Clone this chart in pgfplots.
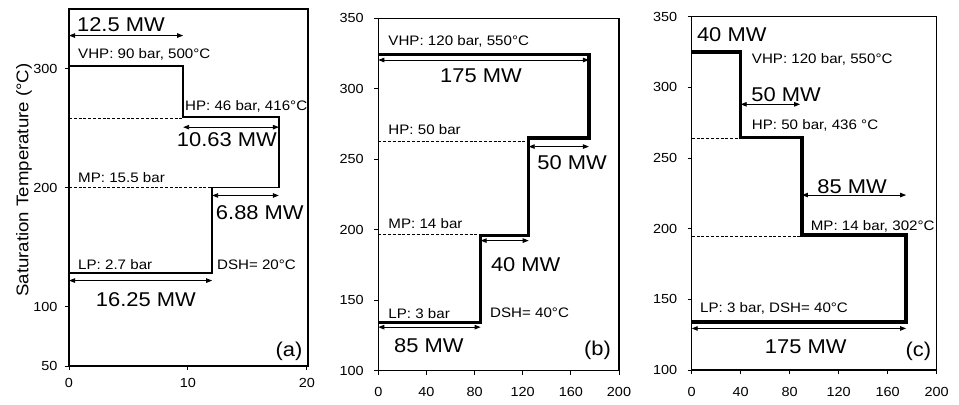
\documentclass[border=0pt]{standalone}
\usepackage{fontspec}
\setmainfont{Liberation Sans}[FakeStretch=1.1]
\usepackage{pgfplots}
\pgfplotsset{compat=1.18}
\usetikzlibrary{arrows.meta}
\pgfplotsset{
  panel/.style={scale only axis, clip=false, no marks, anchor=south west,
    axis line style={line width=1.4bp},
    tick style={line width=1bp, black}, tick align=outside, major tick length=4bp,
    tick pos=left,
    ticklabel style={font=\fontsize{13.2}{15}\selectfont},
    /pgf/number format/assume math mode=true,
    xticklabel style={yshift=-5bp}, yticklabel style={xshift=-4bp}},
  panelbc/.style={panel, xticklabel style={yshift=-4.5bp}, yticklabel style={xshift=-3bp}},
  stepline/.style={black, line width=#1, line join=miter},
  dim/.style={black, line width=0.9bp, >={Triangle[length=6bp,width=4.5bp]}, <->},
  dsh/.style={black, line width=0.9bp, dash pattern=on 3bp off 1.8bp},
}
\tikzset{
  ann/.style={font=\fontsize{13.8}{15}\selectfont, anchor=west, inner sep=0pt},
  big/.style={font=\fontsize{20}{22}\selectfont, inner sep=0pt},
}
\begin{document}
\begin{tikzpicture}
\path[use as bounding box] (0,0) rectangle (959bp,-405bp);
\node[rotate=90, font=\fontsize{17}{19}\selectfont] at (24bp,-180bp) {Saturation Temperature (°C)};
% ---------------- (a)
\begin{axis}[panel, at={(69bp,-366bp)}, width=239bp, height=357bp,
  xmin=0, xmax=20.1, ymin=50, ymax=350, xtick={0,10,20}, ytick={50,100,200,300}]
\addplot[stepline=1.8bp] coordinates {(0,302) (9.6,302) (9.6,259) (17.65,259) (17.65,200) (12.04,200) (12.04,128) (0,128)};
\addplot[dsh] coordinates {(0,258) (9.6,258)};
\addplot[dsh] coordinates {(0,199.7) (12.04,199.7)};
\addplot[dim] coordinates {(0,327.7) (9.6,327.7)};
\addplot[dim] coordinates {(9.6,250.7) (17.65,250.7)};
\addplot[dim] coordinates {(12.04,193.3) (17.65,193.3)};
\addplot[dim] coordinates {(0,121.8) (12.04,121.8)};
\node[ann] at (axis cs:0.76,311.8) {VHP: 90 bar, 500°C};
\node[ann] at (axis cs:9.75,268) {HP: 46 bar, 416°C};
\node[ann] at (axis cs:0.76,208.4) {MP: 15.5 bar};
\node[ann] at (axis cs:0.76,135.3) {LP: 2.7 bar};
\node[ann] at (axis cs:12.44,135.3) {DSH= 20°C};
\node[big] at (axis cs:4.37,337) {12.5 MW};
\node[big] at (axis cs:13.28,240.3) {10.63 MW};
\node[big] at (axis cs:16.05,179) {6.88 MW};
\node[big] at (axis cs:6.47,105.9) {16.25 MW};
\node[big] at (axis cs:18.5,62.2) {(a)};
\end{axis}
% ---------------- (b)
\begin{axis}[panelbc, at={(378.3bp,-370.7bp)}, width=240.7bp, height=352.4bp,
  xmin=0, xmax=200, ymin=100, ymax=350, xtick={0,40,...,200}, ytick={100,150,...,350}]
\addplot[stepline=3.4bp] coordinates {(0,324.5) (175,324.5) (175,265) (125,265) (125,196) (85,196) (85,134) (0,134)};
\addplot[dsh] coordinates {(0,262.5) (125,262.5)};
\addplot[dsh] coordinates {(0,196.8) (85,196.8)};
\addplot[dim] coordinates {(0,320.4) (175,320.4)};
\addplot[dim] coordinates {(125,259) (175,259)};
\addplot[dim] coordinates {(85,192.3) (125,192.3)};
\addplot[dim] coordinates {(0,130.9) (85,130.9)};
\node[ann] at (axis cs:8.3,333.4) {VHP: 120 bar, 550°C};
\node[ann] at (axis cs:8.3,270.8) {HP: 50 bar};
\node[ann] at (axis cs:8.3,204.6) {MP: 14 bar};
\node[ann] at (axis cs:8.3,140.8) {LP: 3 bar};
\node[ann] at (axis cs:92.8,140.8) {DSH= 40°C};
\node[big] at (axis cs:85.3,309.1) {175 MW};
\node[big] at (axis cs:161,247.4) {50 MW};
\node[big] at (axis cs:122.5,175) {40 MW};
\node[big] at (axis cs:42,117.8) {85 MW};
\node[big] at (axis cs:182.1,114.7) {(b)};
\end{axis}
% ---------------- (c)
\begin{axis}[panelbc, at={(691.7bp,-370bp)}, width=245bp, height=353.3bp,
  xmin=0, xmax=200, ymin=100, ymax=350, xtick={0,40,...,200}, ytick={100,150,...,350}]
\addplot[stepline=3.4bp] coordinates {(0,325) (40,325) (40,264.5) (90,264.5) (90,195.5) (175,195.5) (175,134) (0,134)};
\addplot[dsh] coordinates {(0,264) (40,264)};
\addplot[dsh] coordinates {(0,194.6) (90,194.6)};
\addplot[dim] coordinates {(40,288) (88.5,288)};
\addplot[dim] coordinates {(90,223.8) (175,223.8)};
\addplot[dim] coordinates {(0,129.4) (175,129.4)};
\node[big] at (axis cs:32.7,337) {40 MW};
\node[ann] at (axis cs:49,319.9) {VHP: 120 bar, 550°C};
\node[big] at (axis cs:77,294.6) {50 MW};
\node[ann] at (axis cs:49,273.4) {HP: 50 bar, 436 °C};
\node[big] at (axis cs:130.9,229.7) {85 MW};
\node[ann] at (axis cs:97.1,201.9) {MP: 14 bar, 302°C};
\node[ann] at (axis cs:6.8,143.6) {LP: 3 bar, DSH= 40°C};
\node[big] at (axis cs:93.1,116.5) {175 MW};
\node[big] at (axis cs:185,112.9) {(c)};
\end{axis}
\end{tikzpicture}
\end{document}
